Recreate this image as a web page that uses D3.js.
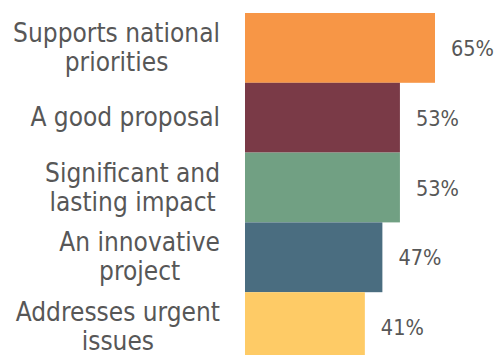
<!DOCTYPE html>
<html>
<head>
<meta charset="utf-8">
<script src="https://cdn.jsdelivr.net/npm/d3@7"></script>
<style>
  html, body { margin: 0; padding: 0; background: #ffffff; }
  svg { display: block; }
  text { font-family: "DejaVu Sans Condensed", "DejaVu Sans", sans-serif; fill: #575757; font-stretch: condensed; }
</style>
</head>
<body>
<svg id="chart" width="497" height="355"></svg>
<script>
// Categories, each broken into its display lines
const categories = [
  ["Supports national", "priorities"],
  ["A good proposal"],
  ["Significant and", "lasting impact"],
  ["An innovative", "project"],
  ["Addresses urgent", "issues"]
];
// Share of respondents (%)
const values = [65, 53, 53, 47, 41];
const colors = ["#F79646", "#7A3A47", "#71A083", "#4A6D80", "#FECB66"];

const keys = categories.map(c => c.join(" "));
const data = keys.map((k, i) => ({ key: k, lines: categories[i], value: values[i], color: colors[i] }));

const svg = d3.select("#chart");

const x = d3.scaleLinear()
  .domain([0, d3.max(values)])
  .range([245, 435]);

const y = d3.scaleBand()
  .domain(keys)
  .range([13, 362])
  .padding(0);

// Bars
svg.append("g")
  .selectAll("rect")
  .data(data)
  .join("rect")
  .attr("x", x(0))
  .attr("y", d => y(d.key))
  .attr("width", d => x(d.value) - x(0))
  .attr("height", y.bandwidth())
  .attr("fill", d => d.color);

// Category labels: each block is centred on itself, its right edge at the axis gap
const labelRight = 220;
const lineH = 29;
const labels = svg.append("g")
  .selectAll("text")
  .data(data)
  .join("text")
  .attr("text-anchor", "middle")
  .attr("font-size", 26);

labels.each(function(d) {
  const cy = y(d.key) + y.bandwidth() / 2;
  const n = d.lines.length;
  const t = d3.select(this);
  const spans = t.selectAll("tspan")
    .data(d.lines)
    .join("tspan")
    .attr("y", (l, i) => cy + (i - (n - 1) / 2) * lineH + 8.5)
    .text(l => l);
  const maxW = d3.max(spans.nodes(), s => s.getComputedTextLength());
  spans.attr("x", labelRight - maxW / 2);
});

// Value labels beside each bar end
svg.append("g")
  .selectAll("text")
  .data(data)
  .join("text")
  .attr("x", d => x(d.value) + 16)
  .attr("y", d => y(d.key) + y.bandwidth() / 2 + 8)
  .attr("font-size", 21.5)
  .text(d => d.value + "%");
</script>
</body>
</html>
